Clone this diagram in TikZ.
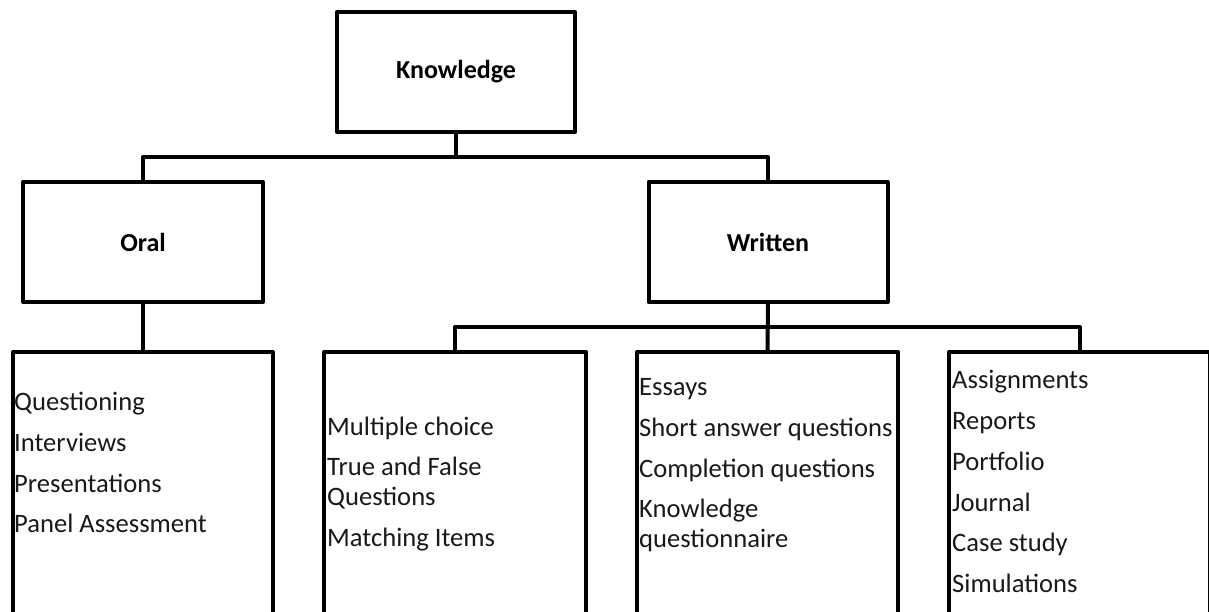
\documentclass[tikz,border=0pt]{standalone}
\usepackage{fontspec}
\setmainfont{Carlito}
\begin{document}
\begin{tikzpicture}[x=1pt,y=-1pt,
  box/.style={draw, line width=4pt, line join=round, inner sep=0pt, outer sep=0pt},
  link/.style={line width=4pt, line join=round},
  head/.style={font=\fontsize{26}{30}\selectfont\bfseries},
  item/.style={font=\fontsize{26.6}{30}\selectfont, text=black!90, anchor=base west, inner sep=0pt}]
\useasboundingbox (0,0) rectangle (1209,612);
\clip (0,0) rectangle (1209,612);

% top level and the two branches
\node[box, head, minimum width=238pt, minimum height=120pt] (know) at (456,72) {Knowledge};
\node[box, head, minimum width=240pt, minimum height=120pt] (oral) at (143,242) {Oral};
\node[box, head, minimum width=239pt, minimum height=120pt] (written) at (768,242) {Written};

% leaf boxes, running off the lower edge
\node[box, minimum width=260pt, minimum height=288pt] (b1) at (143,496) {};
\node[box, minimum width=262pt, minimum height=288pt] (b2) at (455,496) {};
\node[box, minimum width=261pt, minimum height=288pt] (b3) at (767.5,496) {};
\node[box, minimum width=261pt, minimum height=288pt] (b4) at (1079.5,496) {};

% connectors
\draw[link] (know.south) -- ++(0,25);
\draw[link] (oral.north) -- ++(0,-25) -| (written.north);
\draw[link] (oral.south) -- (b1.north);
\draw[link] (written.south) -- (b3.north);
\draw[link] (b2.north) -- ++(0,-25) -| (b4.north);

% oral methods
\foreach \n/\y/\t in {o1/410/Questioning, o2/451/Interviews, o3/492/Presentations, o4/532/Panel Assessment}
  \node[item] (\n) at (14,\y) {\t};

% objective written items
\foreach \n/\y/\t in {w1/435/Multiple choice, w2/475/True and False, w3/505/Questions, w4/546/Matching Items}
  \node[item] (\n) at (327,\y) {\t};

% constructed written items
\foreach \n/\y/\t in {c1/395/Essays, c2/436/Short answer questions, c3/477/Completion questions, c4/517/Knowledge, c5/547/questionnaire}
  \node[item] (\n) at (639,\y) {\t};

% extended written work
\foreach \n/\y/\t in {e1/388/Assignments, e2/429/Reports, e3/470/Portfolio, e4/511/Journal, e5/551/Case study, e6/592/Simulations}
  \node[item] (\n) at (952,\y) {\t};
\end{tikzpicture}
\end{document}
